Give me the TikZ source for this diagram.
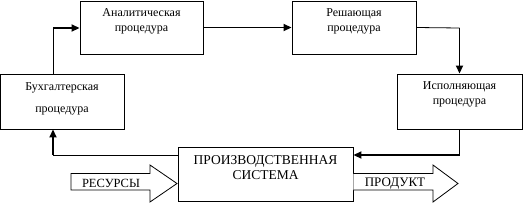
\documentclass[tikz,border=0pt]{standalone}
\usepackage{fontspec}
\setmainfont{Liberation Serif}
\usetikzlibrary{arrows.meta}
\begin{document}
\begin{tikzpicture}[x=1pt,y=-1pt,
    proc/.style={draw,line width=0.9pt,inner sep=0pt},
    lbl/.style={align=center,font=\fontsize{12}{15}\selectfont},
    conn/.style={line width=0.8pt},
    flow/.style={line width=1.7pt,-{Triangle[length=8pt,width=7pt]}}]
    \useasboundingbox (0,0) rectangle (525,204);
    % boxes
    \node[proc,minimum width=123.5pt,minimum height=55pt] (bukh) at (62.25,101.5) {};
    \node[proc,minimum width=123pt,minimum height=53pt] (anal) at (141.5,27.5) {};
    \node[proc,minimum width=124pt,minimum height=53pt] (resh) at (354,27.5) {};
    \node[proc,minimum width=125pt,minimum height=55pt] (ispol) at (459.5,101.5) {};
    \node[proc,minimum width=175pt,minimum height=54pt] (prod) at (265.5,174) {};
    \node[lbl,font=\fontsize{12}{22}\selectfont] (bukht) at (62,99) {Бухгалтерская\\процедура};
    \node[lbl] (analt) at (141.5,21.5) {Аналитическая\\процедура};
    \node[lbl] (resht) at (354,21.5) {Решающая\\процедура};
    \node[lbl] (ispolt) at (459.5,94) {Исполняющая\\процедура};
    \node[lbl,font=\fontsize{13.5}{15}\selectfont] (prodt) at (265.5,167.5) {ПРОИЗВОДСТВЕННАЯ\\СИСТЕМА};
    % connectors
    \coordinate (k1) at (53,28);
    \coordinate (k2) at (459.5,28);
    \coordinate (k3) at (459.5,155);
    \coordinate (k4) at (53,155);
    \draw[conn] (bukh.north -| k1) -- (k1);
    \draw[flow] (k1) -- (k1 -| anal.west);
    \draw[flow] (anal.east) -- (resh.west);
    \draw[conn] (resh.east) -- (k2);
    \draw[flow] (k2) -- (ispol.north);
    \draw[conn] (ispol.south) -- (k3);
    \draw[flow] (k3) -- (k3 -| prod.east);
    \draw[conn] (k4 -| prod.west) -- (k4);
    \draw[flow] (k4) -- (k4 |- bukh.south);
    % input / output
    \draw[line width=0.8pt,fill=white] (71,173.5) -- (150,173.5) -- (150,165) -- (177,183.5)
      -- (150,202) -- (150,190) -- (71,190) -- cycle;
    \draw[line width=0.8pt,fill=white] (prod.east |- 0,173.5) -- (433,173.5) -- (433,165) -- (458,183.5)
      -- (433,202) -- (433,190) -- (prod.east |- 0,190);
    \node[lbl,font=\fontsize{12.5}{14}\selectfont] (res) at (111,183.5) {РЕСУРСЫ};
    \node[lbl,font=\fontsize{13}{14}\selectfont] (out) at (395,184) {ПРОДУКТ};
\end{tikzpicture}
\end{document}
